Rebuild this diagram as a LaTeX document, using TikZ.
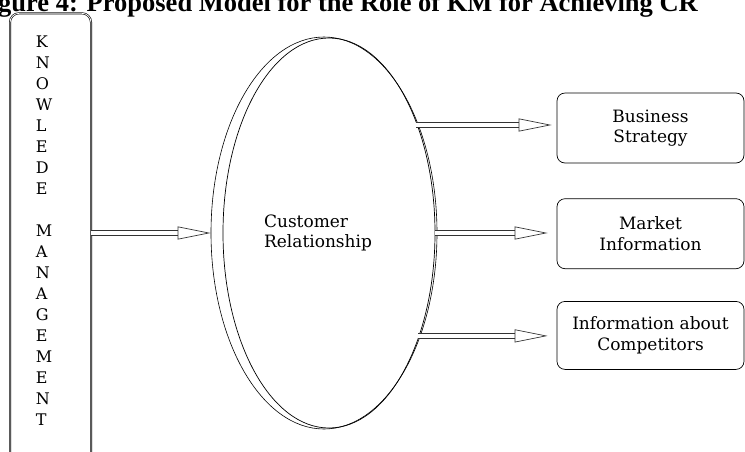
\documentclass[tikz,border=0pt]{standalone}
\usepackage{fontspec}
\setmainfont{DejaVu Serif}
\newfontfamily\titlefont{Liberation Serif}
\usetikzlibrary{shapes.geometric, arrows.meta, positioning}
\tikzstyle{dblarrow} = [draw=black!80, line width=0.7pt, double, double distance=4pt, -{Triangle[open, length=33pt, width=13pt]}]
\tikzstyle{outbox} = [rectangle, rounded corners=8pt, draw=black, line width=0.7pt, minimum width=187pt, minimum height=70pt, align=center, font=\fontsize{17}{20.5}\selectfont]
\tikzstyle{oval} = [ellipse, draw=black, line width=0.7pt, inner sep=0pt]
\tikzset{
	kmbox/.style = {rectangle, rounded corners=9pt, draw=black, line width=0.6pt,
		double, double distance=0.8pt,
		minimum width=81pt, minimum height=470pt, anchor=north},
	letters/.style = {align=left, inner sep=0pt, anchor=north west,
		font=\fontsize{16}{21}\selectfont},
	heading/.style = {anchor=base east, inner sep=0pt,
		font=\titlefont\bfseries\fontsize{26.5}{30}\selectfont}
}

\begin{document}
\begin{tikzpicture}[x=1pt, y=-1pt]
\useasboundingbox (0,0) rectangle (745,451);
\clip (0,0) rectangle (745,451);
\fill[white] (0,0) rectangle (745,451);

% Title (cut at the top)
\node (title) [heading] at (698,11) {Figure 4: Proposed Model for the Role of KM for Achieving CR};

% Knowledge management column
\node (km) [kmbox] at (50.5,13) {};
\node (kmword) [letters] at ([xshift=26pt, yshift=-23pt]km.north west) {K\\N\\O\\W\\L\\E\\D\\E\\[21pt]M\\A\\N\\A\\G\\E\\M\\E\\N\\T};

% Customer relationship oval (drawn twice)
\node (cr) [oval, minimum width=212pt, minimum height=390pt] at (329,233) {};
\node (crout) [oval, minimum width=226pt, minimum height=392pt, line width=0.6pt] at ([xshift=-5pt]cr.center) {};
\node (crlabel) [align=left, font=\fontsize{17}{20}\selectfont] at ([xshift=-11pt]cr.center) {Customer\\Relationship};

% Outcome boxes
\node (bs) [outbox] at (650.5,128) {Business\\Strategy};
\node (mi) [outbox, below=35pt of bs] {Market\\Information};
\node (ic) [outbox, below=32pt of mi, minimum height=68pt] {Information about\\Competitors};

% Arrows
\draw [dblarrow] (crout.west -| km.east) -- (crout.west);
\draw [dblarrow, shorten >=5pt] ([yshift=3pt]bs.west -| cr.52) -- ([yshift=3pt]bs.west);
\draw [dblarrow, shorten >=9pt] (cr.east) -- (cr.east -| mi.west);
\draw [dblarrow, shorten >=9pt] ([yshift=-0.5pt]ic.west -| cr.310) -- ([yshift=-0.5pt]ic.west);

\end{tikzpicture}
\end{document}
